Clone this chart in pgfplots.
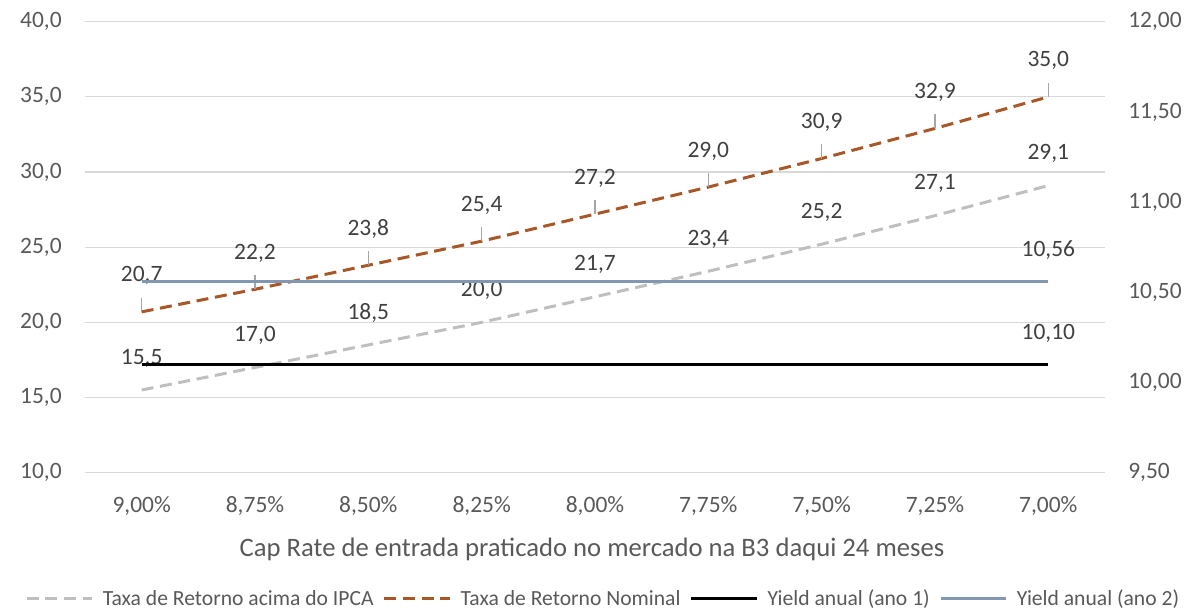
\documentclass[border=0pt]{standalone}
\usepackage{fontspec}
\setmainfont{Carlito}
\usepackage{pgfplots}
\pgfplotsset{compat=1.18}
\definecolor{ipca}{RGB}{191,191,191}
\definecolor{nominal}{RGB}{168,88,40}
\definecolor{ytwo}{RGB}{132,151,176}
\definecolor{tickc}{RGB}{89,89,89}
\definecolor{lblc}{RGB}{64,64,64}
\definecolor{gridc}{RGB}{217,217,217}
\definecolor{leader}{RGB}{166,166,166}

\pgfplotstableread{
x ipca nominal
0 15.5 20.7
1 17.0 22.2
2 18.5 23.8
3 20.0 25.4
4 21.7 27.2
5 23.4 29.0
6 25.2 30.9
7 27.1 32.9
8 29.1 35.0
}\retorno

\pgfplotstableread{
x yone ytwo
0 10.10 10.56
1 10.10 10.56
2 10.10 10.56
3 10.10 10.56
4 10.10 10.56
5 10.10 10.56
6 10.10 10.56
7 10.10 10.56
8 10.10 10.56
}\yield

\begin{document}
\begin{tikzpicture}
\path[use as bounding box] (-63.75pt,-102.98pt) rectangle (825.75pt,354.53pt);
\begin{axis}[
  at={(0pt,0pt)}, anchor=south west,
  scale only axis, width=765pt, height=338.25pt,
  xmin=-0.5, xmax=8.5, ymin=10, ymax=40,
  xtick={0,...,8},
  xticklabels={{9,00\%},{8,75\%},{8,50\%},{8,25\%},{8,00\%},{7,75\%},{7,50\%},{7,25\%},{7,00\%}},
  ytick={10,15,...,40},
  axis line style={draw=none},
  major tick length=0pt,
  ymajorgrids, grid style={gridc, line width=0.9pt},
  tick label style={font=\fontsize{17.6}{20}\selectfont, text=tickc},
  yticklabel style={anchor=east, inner sep=0pt, xshift=-17.3pt},
  xticklabel style={anchor=base, inner sep=0pt, yshift=-29.5pt},
  xlabel={Cap Rate de entrada praticado no mercado na B3 daqui 24 meses},
  xlabel style={at={(axis description cs:0.497,-0.1847)}, anchor=base, inner sep=0pt,
    font=\fontsize{20}{24}\selectfont, text=tickc},
  legend columns=4,
  legend style={at={(axis description cs:0.507,-0.28)}, anchor=center, draw=none, fill=none,
    font=\fontsize{16.2}{19}\selectfont, text=tickc,
    nodes={inner sep=0pt},
    /tikz/every even column/.append style={column sep=7pt},
    /tikz/every odd column/.append style={column sep=7pt}},
  legend image code/.code={\draw[#1] (0pt,0pt) -- (49pt,0pt);},
  /pgf/number format/use comma,
  /pgf/number format/fixed,
  /pgf/number format/fixed zerofill,
  /pgf/number format/precision=1,
  /pgf/number format/assume math mode=true,
]
\addplot[ipca, line width=2.25pt, dash pattern=on 9pt off 5pt, mark=none,
  nodes near coords,
  every node near coord/.style={anchor=center, yshift=24pt, text=lblc, solid,
    font=\fontsize{17.6}{20}\selectfont}]
  table[x=x, y=ipca] {\retorno};
\addplot[nominal, line width=2.25pt, dash pattern=on 9pt off 5pt, mark=none,
  nodes near coords,
  every node near coord/.style={anchor=center, yshift=27pt, text=lblc, solid,
    font=\fontsize{17.6}{20}\selectfont}]
  table[x=x, y=nominal] {\retorno};
\addplot[draw=none, mark=none, forget plot,
  error bars/.cd, y dir=plus, y fixed=0.95, error mark=none,
  error bar style={draw=leader, solid, line width=1pt}]
  table[x=x, y=nominal] {\retorno};
\addlegendimage{black, line width=2.25pt}
\addlegendimage{ytwo, line width=2.25pt}
\legend{Taxa de Retorno acima do IPCA, Taxa de Retorno Nominal, Yield anual (ano 1), Yield anual (ano 2)}
\end{axis}
\begin{axis}[
  at={(0pt,0pt)}, anchor=south west,
  scale only axis, width=765pt, height=338.25pt,
  xmin=-0.5, xmax=8.5, ymin=9.5, ymax=12,
  xtick=\empty,
  ytick={9.5,10,...,12},
  axis line style={draw=none},
  axis y line*=right,
  axis x line=none,
  major tick length=0pt,
  tick label style={font=\fontsize{17.6}{20}\selectfont, text=tickc},
  yticklabel style={anchor=west, inner sep=0pt, xshift=17.3pt},
  /pgf/number format/use comma,
  /pgf/number format/fixed,
  /pgf/number format/fixed zerofill,
  /pgf/number format/precision=2,
  /pgf/number format/assume math mode=true,
]
\addplot[black, line width=2.25pt, mark=none] table[x=x, y=yone] {\yield};
\addplot[ytwo, line width=2.25pt, mark=none] table[x=x, y=ytwo] {\yield};
\addplot[draw=none, mark=none, nodes near coords,
  every node near coord/.style={anchor=center, yshift=23.3pt, text=lblc,
    font=\fontsize{17.6}{20}\selectfont}]
  coordinates {(8,10.10) (8,10.56)};
\end{axis}
\end{tikzpicture}
\end{document}
